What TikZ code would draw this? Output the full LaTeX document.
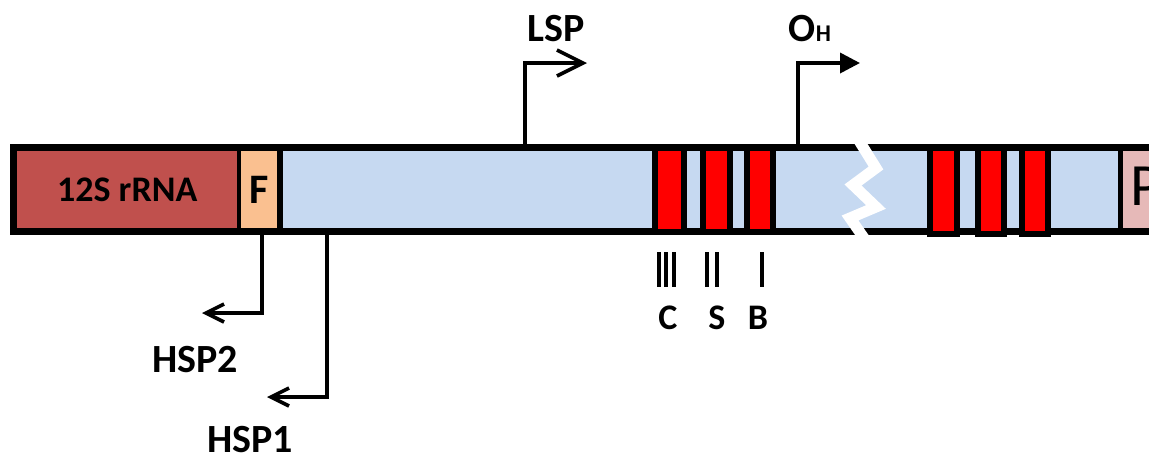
\documentclass[tikz,border=0pt]{standalone}
\usepackage{fontspec}
\setmainfont{Carlito}
\usetikzlibrary{arrows.meta}
\definecolor{rrnacol}{HTML}{C0504D}
\definecolor{fcol}{HTML}{FAC090}
\definecolor{dloopcol}{HTML}{C6D9F1}
\definecolor{pcol}{HTML}{E6B9B8}
\definecolor{csbred}{HTML}{FF0000}
\begin{document}
\begin{tikzpicture}[
  x=1pt, y=-1pt,
  every node/.style={inner sep=0pt, font=\bfseries\fontsize{40}{44}\selectfont},
  seg/.style={anchor=north west, minimum height=77pt},
  csb/.style={fill=csbred, draw=black, line width=6pt, minimum height=84pt},
  csbr/.style={csb, minimum height=86pt},
  prom/.style={line width=3.6pt},
  openhead/.style={-{Straight Barb[length=#1, width=#1]}},
  tick/.style={line width=4.5pt}
]
\useasboundingbox (0,0) rectangle (1149,459);
\clip (0,0) rectangle (1149,459);
% the strand
\node[fill=black, anchor=north west, minimum width=1160pt, minimum height=91pt] (bar) at (10,144) {};
\node[seg, fill=rrnacol, minimum width=220pt, font=\bfseries\fontsize{36}{40}\selectfont] (rrna) at (17,151) {12S rRNA};
\node[seg, fill=fcol, minimum width=36pt, font=\bfseries\fontsize{42}{46}\selectfont] (trnaf) at (241,151) {F};
\node[seg, fill=dloopcol, minimum width=835pt] (dloop) at (283,151) {};
\node[seg, fill=pcol, minimum width=40pt] (trnap) at (1123,151) {};
\node[anchor=base west, font=\fontsize{60}{64}\selectfont] (ptxt) at (1130,205) {P};
% conserved blocks
\node[csb, minimum width=29pt] (csb3) at (669.5,189.5) {};
\node[csb, minimum width=27pt] (csb2) at (716.5,189.5) {};
\node[csb, minimum width=26pt] (csb1) at (760,189.5) {};
\node[csbr, minimum width=27pt] (rep1) at (943.5,190.5) {};
\node[csbr, minimum width=26pt] (rep2) at (991,190.5) {};
\node[csbr, minimum width=26pt] (rep3) at (1035,190.5) {};
% break
\draw[white, line width=11pt] (858,139) -- (876,168) -- (853,185) -- (876,207) -- (850,218) -- (866,241);
% promoters and origin
\coordinate (lspfoot) at (525,144);
\coordinate (lsptip) at (587,63);
\coordinate (ohfoot) at (798,144);
\coordinate (ohtip) at (860,63);
\coordinate (hsptwofoot) at (262,235);
\coordinate (hsptwotip) at (202,313);
\coordinate (hsponefoot) at (327,235);
\coordinate (hsponetip) at (267,397);
\draw[prom, openhead=26pt] (lspfoot) |- (lsptip);
\draw[prom, -{Triangle[length=20pt, width=20pt]}] (ohfoot) |- (ohtip);
\draw[prom, openhead=18pt] (hsptwofoot) |- (hsptwotip);
\draw[prom, openhead=18pt] (hsponefoot) |- (hsponetip);
\node (lsp) at (556,29) {LSP};
\node (oh) at (810,29) {O{\fontsize{24}{26}\selectfont H}};
\node (hsp2) at (195,360) {HSP2};
\node (hsp1) at (250,440) {HSP1};
% CSB ticks
\foreach \tx in {659,666,674,707,717,762}
  \draw[tick] (\tx,252) -- (\tx,287);
\node[font=\bfseries\fontsize{36}{40}\selectfont] (clab) at (668,318) {C};
\node[font=\bfseries\fontsize{36}{40}\selectfont] (slab) at (717,318) {S};
\node[font=\bfseries\fontsize{36}{40}\selectfont] (blab) at (758,318) {B};
\end{tikzpicture}
\end{document}
